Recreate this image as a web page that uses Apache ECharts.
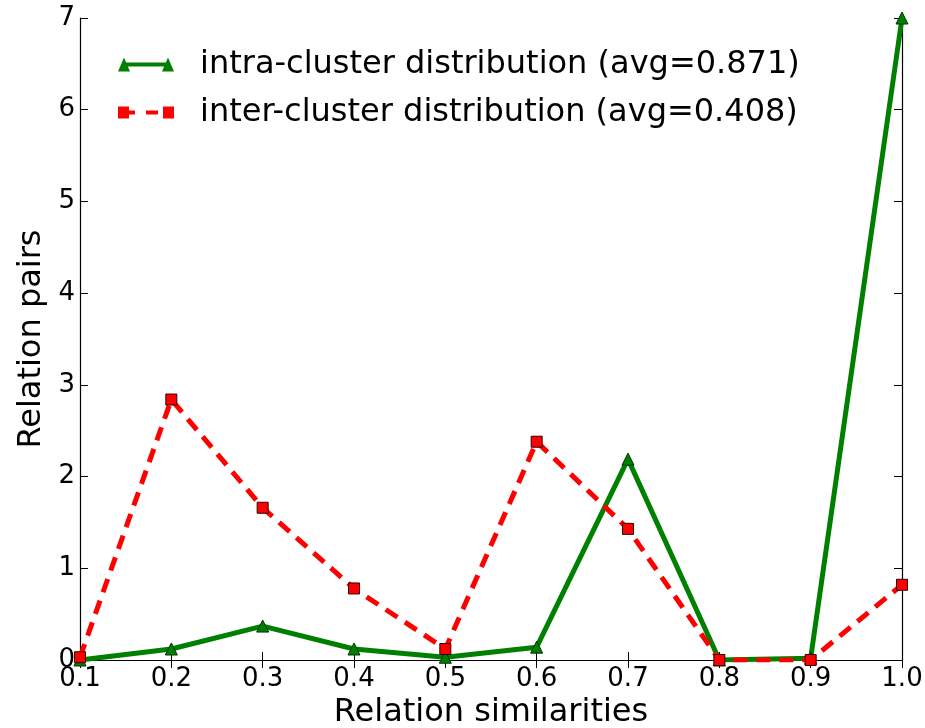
<!DOCTYPE html>
<html>
<head>
<meta charset="utf-8">
<script src="https://cdn.jsdelivr.net/npm/echarts@6/dist/echarts.min.js"></script>
<style>
  html, body { margin: 0; padding: 0; background: #fff; }
  #chart { width: 925px; height: 728px; }
</style>
</head>
<body>
<div id="chart"></div>
<script>
// data
var similarities = [0.1, 0.2, 0.3, 0.4, 0.5, 0.6, 0.7, 0.8, 0.9, 1.0]
var intraPairs = [0.0, 0.12, 0.37, 0.12, 0.03, 0.14, 2.19, 0.0, 0.02, 7.0]
var interPairs = [0.03, 2.84, 1.66, 0.78, 0.12, 2.38, 1.43, 0.0, 0.0, 0.82]
var seriesNames = ["intra-cluster distribution (avg=0.871)", "inter-cluster distribution (avg=0.408)"]

var font = "DejaVu Sans"

function pairs(ys){
    return similarities.map(function(x, i){ return [x, ys[i]] })
}

// matplotlib style legend handles: marker - line - marker
var intraIcon = "path://M0,14L6,0L12,14ZM6,5L50,5L50,9L6,9ZM44,14L50,0L56,14Z"
var interIcon = "path://M0,1L11,1L11,13L0,13ZM11,5L17,5L17,9L11,9ZM28,5L40,5L40,9L28,9ZM45,1L56,1L56,13L45,13Z"

var tickIn = {show: true, inside: true, length: 8, lineStyle: {color: "#000", width: 1}}
var axisLineBlack = {show: true, lineStyle: {color: "#000", width: 1.2}}

var myChart = echarts.init(document.getElementById("chart"), null, {renderer: "canvas"})

var option = {
    backgroundColor: "#fff",
    animation: false,
    textStyle: {fontFamily: font},
    grid: {left: 80, right: 23, top: 18, bottom: 68, containLabel: false, outerBoundsMode: "none"},
    legend: {
        left: 113, top: 41,
        orient: "vertical",
        itemWidth: 56, itemHeight: 14, itemGap: 11,
        itemStyle: {borderWidth: 0},
        textStyle: {fontFamily: font, fontSize: 32, color: "#000", lineHeight: 37, padding: [0, 0, 0, 21]},
        data: [
            {name: seriesNames[0], icon: intraIcon},
            {name: seriesNames[1], icon: interIcon}
        ]
    },
    xAxis: [{
        type: "value", min: 0.1, max: 1.0, interval: 0.1,
        name: "Relation similarities", nameLocation: "middle", nameGap: 33,
        nameTextStyle: {fontFamily: font, fontSize: 32, color: "#000"},
        axisLine: axisLineBlack, axisTick: tickIn,
        axisLabel: {fontFamily: font, fontSize: 26, color: "#000", margin: 6,
            formatter: function(v){ return v.toFixed(1) }},
        splitLine: {show: false}
    }, {
        type: "value", position: "top", min: 0.1, max: 1.0, interval: 0.1,
        axisLine: axisLineBlack, axisTick: tickIn, axisLabel: {show: false}, splitLine: {show: false}
    }],
    yAxis: [{
        type: "value", min: 0, max: 7, interval: 1,
        name: "Relation pairs", nameLocation: "middle", nameGap: 29,
        nameTextStyle: {fontFamily: font, fontSize: 32, color: "#000"},
        axisLine: axisLineBlack, axisTick: tickIn,
        axisLabel: {fontFamily: font, fontSize: 26, color: "#000", margin: 5},
        splitLine: {show: false}
    }, {
        type: "value", position: "right", min: 0, max: 7, interval: 1,
        axisLine: axisLineBlack, axisTick: tickIn, axisLabel: {show: false}, splitLine: {show: false}
    }],
    series: [{
        name: seriesNames[0], type: "line",
        data: pairs(intraPairs),
        symbol: "triangle", symbolSize: 12,
        lineStyle: {color: "#008000", width: 5},
        itemStyle: {color: "#008000", borderColor: "#003300", borderWidth: 1},
        z: 2
    }, {
        name: seriesNames[1], type: "line",
        data: pairs(interPairs),
        symbol: "rect", symbolSize: 11,
        lineStyle: {color: "#ff0000", width: 5, type: [14, 9]},
        itemStyle: {color: "#ff0000", borderColor: "#330000", borderWidth: 1},
        z: 3
    }]
}

myChart.setOption(option)
</script>
</body>
</html>
